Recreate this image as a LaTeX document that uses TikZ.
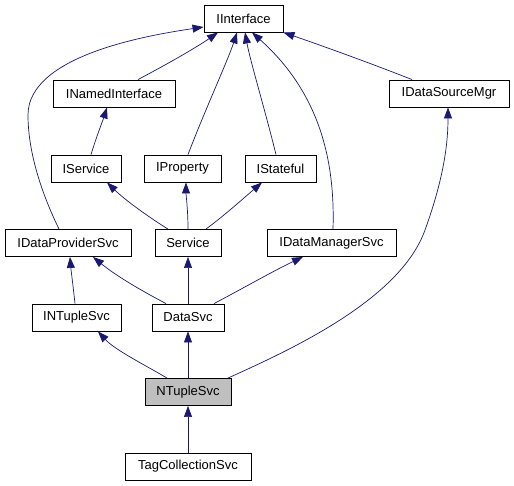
\documentclass[tikz,border=0pt]{standalone}
\usepackage{fontspec}
\setmainfont{Liberation Sans}
\usetikzlibrary{arrows.meta}
\definecolor{edgeblue}{HTML}{191970}
\definecolor{hilite}{HTML}{BFBFBF}
\begin{document}
\begin{tikzpicture}[x=1pt,y=-1pt,
  cls/.style={draw=black,line width=0.9pt,fill=white,inner sep=0pt,minimum height=27pt,font=\fontsize{13}{15}\selectfont},
  edge/.style={draw=edgeblue,line width=0.7pt,-{Triangle[length=11pt,width=8pt]}, color=edgeblue}]
\useasboundingbox (0,0) rectangle (514,485);
\node[cls,minimum width=79pt] (ii) at (243.5,18.5) {IInterface};
\node[cls,minimum width=122pt] (ini) at (114,93.5) {INamedInterface};
\node[cls,minimum width=120pt] (idsm) at (449,93.5) {IDataSourceMgr};
\node[cls,minimum width=70pt] (is) at (86,168.5) {IService};
\node[cls,minimum width=77pt] (ip) at (182.5,168.5) {IProperty};
\node[cls,minimum width=71pt] (ist) at (280.5,168.5) {IStateful};
\node[cls,minimum width=126pt] (idps) at (68,243) {IDataProviderSvc};
\node[cls,minimum width=66pt] (svc) at (188,243) {Service};
\node[cls,minimum width=129pt] (idms) at (331.5,243) {IDataManagerSvc};
\node[cls,minimum width=89pt] (ints) at (76.5,317.5) {INTupleSvc};
\node[cls,minimum width=72pt] (ds) at (188,317.5) {DataSvc};
\node[cls,minimum width=86pt,fill=hilite] (nts) at (188,392) {NTupleSvc};
\node[cls,minimum width=126pt] (tcs) at (188,466.5) {TagCollectionSvc};

% to IInterface
\draw[edge] ([xshift=-9pt]idps.north) .. controls (40,190) and (28,150) .. (28,115) .. controls (28,55) and (150,35) .. ([yshift=-8.5pt]ii.west);
\draw[edge] ([xshift=24pt]ini.north) .. controls (175,60) and (200,45) .. ([xshift=-25.5pt]ii.south);
\draw[edge] ([xshift=5.5pt]ip.north) .. controls (205,110) and (228,60) .. ([xshift=-6.5pt]ii.south);
\draw[edge] ([xshift=-4.5pt]ist.north) .. controls (265,110) and (250,60) .. ([xshift=1.5pt]ii.south);
\draw[edge] ([xshift=1.5pt]idms.north) .. controls (335,165) and (322,95) .. ([xshift=8.5pt]ii.south);
\draw[edge] ([xshift=-37pt]idsm.north) .. controls (370,63) and (320,45) .. (ii.south east);
% second level
\draw[edge] ([xshift=5pt]is.north) .. controls (97,135) and (103,120) .. ([xshift=-7pt]ini.south);
\draw[edge] ([xshift=-20pt]svc.north) .. controls (150,218) and (125,200) .. ([xshift=21pt]is.south);
\draw[edge] (svc.north) .. controls (188,210) and (186,195) .. ([xshift=3.5pt]ip.south);
\draw[edge] ([xshift=18pt]svc.north) .. controls (225,215) and (245,197) .. ([xshift=-18.5pt]ist.south);
\draw[edge] ([xshift=-1.5pt]ints.north) .. controls (73,285) and (71,270) .. ([xshift=2pt]idps.south);
\draw[edge] ([xshift=-22pt]ds.north) .. controls (140,290) and (115,275) .. ([xshift=25pt]idps.south);
\draw[edge] (ds.north) -- (svc.south);
\draw[edge] ([xshift=26pt]ds.north) .. controls (240,290) and (275,270) .. ([xshift=-28.5pt]idms.south);
\draw[edge] ([xshift=-21pt]nts.north) .. controls (145,365) and (115,350) .. ([xshift=21.5pt]ints.south);
\draw[edge] (nts.north) -- (ds.south);
\draw[edge] ([xshift=40pt]nts.north) .. controls (290,350) and (400,300) .. (425,230) .. controls (445,175) and (448,140) .. ([xshift=-1pt]idsm.south);
\draw[edge] (tcs.north) -- (nts.south);
\end{tikzpicture}
\end{document}
